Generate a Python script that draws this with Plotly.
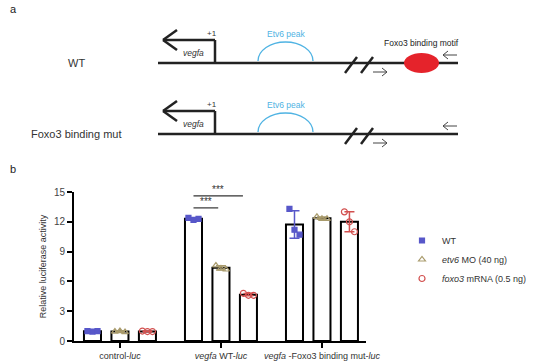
import plotly.graph_objects as go
import numpy as np

W, H = 535, 363

# ---------------- data ----------------
groups = ["control-<i>luc</i>", "<i>vegfa</i> WT-<i>luc</i>",
          "<i>vegfa</i> -Foxo3 binding mut-<i>luc</i>"]
conditions = ["WT", "<i>etv6</i> MO (40 ng)", "<i>foxo3</i> mRNA (0.5 ng)"]
wt_vals = [[1.0, 0.95, 1.0], [12.4, 12.2, 12.3], [13.3, 11.2, 10.7]]
etv6_vals = [[0.95, 1.0, 0.9], [7.6, 7.3, 7.2], [12.5, 12.3, 12.3]]
foxo3_vals = [[1.0, 0.95, 0.95], [4.8, 4.6, 4.6], [13.0, 12.0, 11.0]]
y_ticks = [0, 3, 6, 9, 12, 15]
# significance brackets: (label, group, from condition, to condition, height)
sig_labels = ["***", "***"]
sig_group = [1, 1]
sig_from = [0, 0]
sig_to = [1.8, 0.9]
sig_height = [14.6, 13.4]

series = [wt_vals, etv6_vals, foxo3_vals]
colors = ["#5757c9", "#a99b6c", "#d2504f"]
symbols = ["square", "triangle-up-open", "circle-open"]
sizes = [5, 6, 6]

FONT = "Arial, Liberation Sans, sans-serif"
slot = 0.272
jit = [-0.05, 0.0, 0.05]

fig = go.Figure()
gx = list(range(len(groups)))
for k, vals in enumerate(series):
    means = [float(np.mean(v)) for v in vals]
    fig.add_trace(go.Bar(x=gx, y=means, marker=dict(color="white", line=dict(color="black", width=2)),
                         showlegend=False, hoverinfo="skip"))
for k, vals in enumerate(series):
    means = [float(np.mean(v)) for v in vals]
    sds = [float(np.std(v, ddof=1)) for v in vals]
    xs = [g + (k - 1) * slot for g in gx]
    fig.add_trace(go.Scatter(x=xs, y=means, mode="markers", marker=dict(size=1, opacity=0),
                             error_y=dict(type="data", array=sds, color=colors[k], thickness=1.5, width=5),
                             showlegend=False, hoverinfo="skip"))
    px_, py_ = [], []
    for g, v in zip(gx, vals):
        for j, val in enumerate(v):
            px_.append(g + (k - 1) * slot + jit[j])
            py_.append(val)
    fig.add_trace(go.Scatter(x=px_, y=py_, mode="markers", name=conditions[k],
                             marker=dict(symbol=symbols[k], size=sizes[k], color=colors[k],
                                         line=dict(color=colors[k], width=1.2))))

# significance
for lab, g, a, b, h in zip(sig_labels, sig_group, sig_from, sig_to, sig_height):
    x0 = g + (a - 1) * slot
    x1 = g + (b - 1) * slot
    fig.add_shape(type="line", xref="x", yref="y", x0=x0, x1=x1, y0=h, y1=h,
                  line=dict(color="#333", width=1.2))
    fig.add_annotation(xref="x", yref="y", x=(x0 + x1) / 2, y=h, text=lab, showarrow=False,
                       yanchor="bottom", font=dict(size=10, color="#333", family=FONT), yshift=-1)

fig.update_layout(
    width=W, height=H, margin=dict(l=0, r=0, t=0, b=0, autoexpand=False),
    paper_bgcolor="white", plot_bgcolor="white",
    barmode="group", bargap=0.184, bargroupgap=0.38,
    font=dict(family=FONT, color="#333"),
    xaxis=dict(domain=[74 / W, 366 / W], range=[-0.455, 2.436], tickvals=gx, ticktext=groups,
               showline=True, linecolor="black", linewidth=2, ticks="outside", ticklen=5,
               tickwidth=2, tickcolor="black", showgrid=False, zeroline=False, automargin=False,
               tickfont=dict(size=9, color="#333", family=FONT)),
    yaxis=dict(domain=[(H - 341) / H, (H - 192) / H], range=[0, 15], tickvals=y_ticks,
               showline=True, linecolor="black", linewidth=2, ticks="outside", ticklen=5,
               tickwidth=2, tickcolor="black", showgrid=False, zeroline=False, automargin=False,
               tickfont=dict(size=10, color="#444", family=FONT),
               title=dict(text="Relative luciferase activity", font=dict(size=9, family=FONT), standoff=6)),
    legend=dict(x=402 / W, y=1 - 226 / H, xanchor="left", yanchor="top",
                font=dict(size=9, family=FONT, color="#333"), tracegroupgap=0, itemwidth=30),
)

# ---------------- schematic (panel a) ----------------
def X(v):
    return v / W


def Y(v):
    return 1 - v / H


def line(x0, y0, x1, y1, w=2.5, c="#222"):
    fig.add_shape(type="line", xref="paper", yref="paper", x0=X(x0), y0=Y(y0), x1=X(x1), y1=Y(y1),
                  line=dict(color=c, width=w))


def text(x, y, s, size=9, c="#333", anchor="center"):
    fig.add_annotation(xref="paper", yref="paper", x=X(x), y=Y(y), text=s, showarrow=False,
                       xanchor=anchor, yanchor="middle", font=dict(size=size, color=c, family=FONT))


row_y = [63, 134]
row_labels = ["WT", "Foxo3 binding mut"]
for r, (by, lab) in enumerate(zip(row_y, row_labels)):
    text(76, by, lab, size=11)
    line(158, by, 458, by)
    # promoter arrow
    line(215, by, 215, by - 23)
    line(215, by - 23, 163, by - 23)
    line(163, by - 23, 177, by - 33)
    line(163, by - 23, 177, by - 13)
    text(212, by - 30, "+1", size=8)
    text(193, by - 10, "<i>vegfa</i>", size=8.5)
    # Etv6 peak arc
    x0, x1, top, base = 258, 313, by - 21, by - 2
    cx = (x0 + x1) / 2
    k = 0.552
    rx, ry = (x1 - x0) / 2, base - top
    path = (f"M {X(x0)},{Y(base)} C {X(x0)},{Y(base - ry * k)} {X(cx - rx * k)},{Y(top)} {X(cx)},{Y(top)} "
            f"C {X(cx + rx * k)},{Y(top)} {X(x1)},{Y(base - ry * k)} {X(x1)},{Y(base)}")
    fig.add_shape(type="path", xref="paper", yref="paper", path=path,
                  line=dict(color="#4fb3e3", width=1.3))
    text(286, by - 29, "Etv6 peak", size=8.5, c="#4fb3e3")
    # break slashes
    line(345, by + 10, 357, by - 6)
    line(361, by + 10, 373, by - 6)
    # thin primer arrows
    ax0, ax1, ay = 373, 387, by + 9
    line(ax0, ay, ax1, ay, w=1, c="#444")
    line(ax1, ay, ax1 - 5, ay - 4, w=1, c="#444")
    line(ax1, ay, ax1 - 5, ay + 4, w=1, c="#444")
    bx0, bx1, byy = 457, 443, by - 8
    line(bx0, byy, bx1, byy, w=1, c="#444")
    line(bx1, byy, bx1 + 5, byy - 4, w=1, c="#444")
    line(bx1, byy, bx1 + 5, byy + 4, w=1, c="#444")

# Foxo3 binding motif (WT only)
fig.add_shape(type="circle", xref="paper", yref="paper", x0=X(404), x1=X(439), y0=Y(53), y1=Y(73),
              fillcolor="#e5232b", line=dict(width=0))
text(421, 43, "Foxo3 binding motif", size=8.5, c="#222")

text(13, 9, "a", size=11, c="#222")
text(13, 169, "b", size=11, c="#222")

fig.write_html("out.html", config={"displayModeBar": False},
               post_script="document.body.style.margin='0px';document.body.style.overflow='hidden';")
